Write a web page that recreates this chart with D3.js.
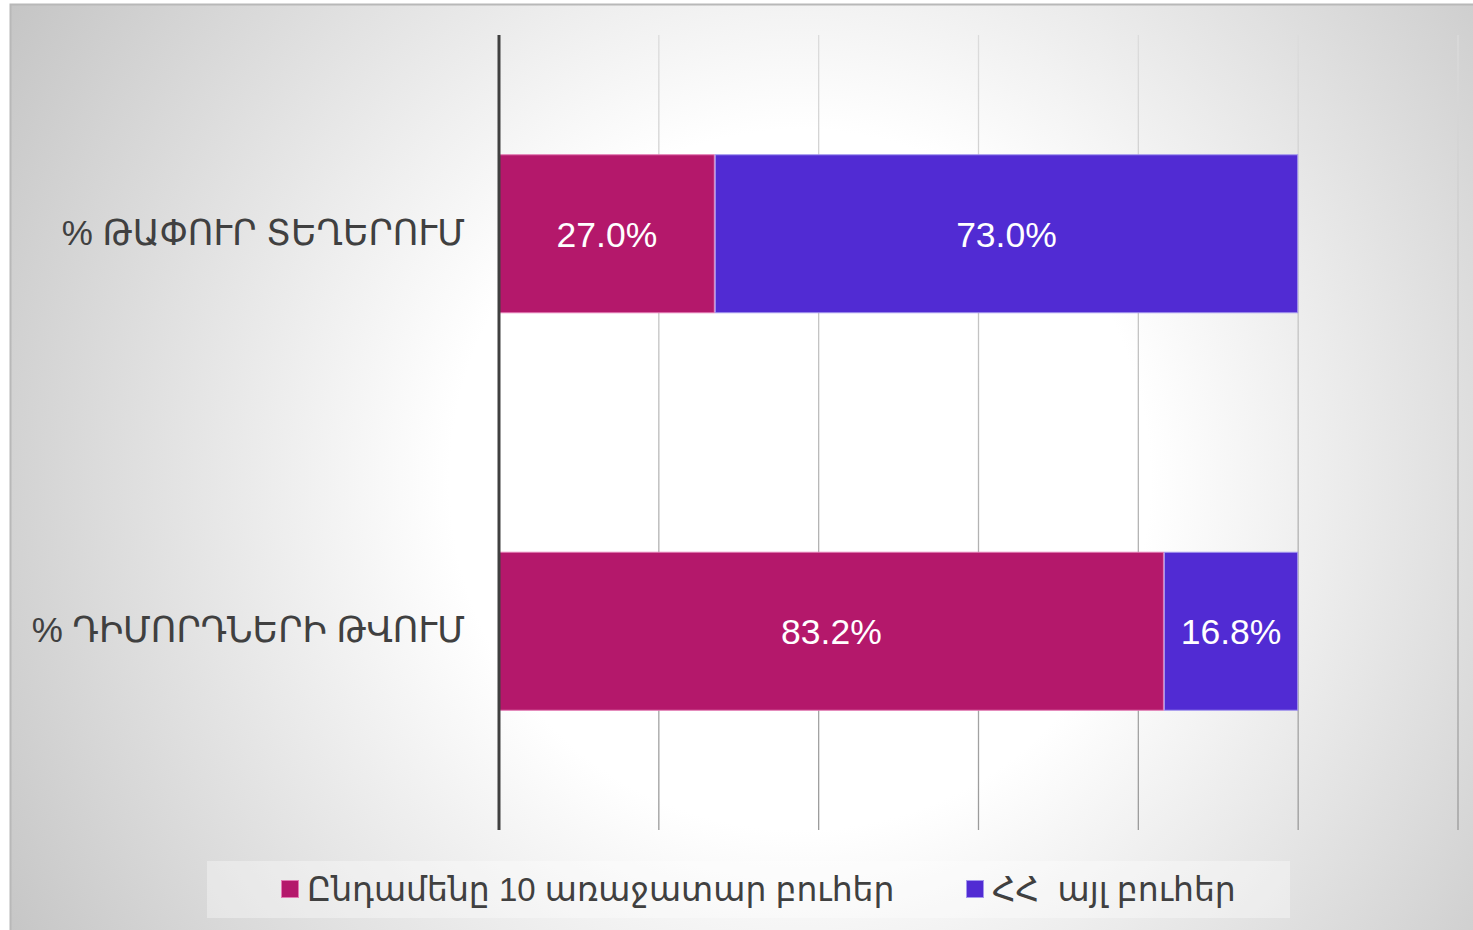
<!DOCTYPE html>
<html>
<head>
<meta charset="utf-8">
<script src="https://cdn.jsdelivr.net/npm/d3@7"></script>
<style>
  html, body { margin: 0; padding: 0; background: #fff; }
  svg { display: block; }
</style>
</head>
<body>
<script>
const width = 1473;
const height = 930;
const margin = { top: 35, right: 15, bottom: 100, left: 499 };
const plotRight = 1458;
const plotBottom = 830;

// data
const categories = ['% ԹԱՓՈՒՐ ՏԵՂԵՐՈՒՄ', '% ԴԻՄՈՐԴՆԵՐԻ ԹՎՈՒՄ'];
const seriesNames = ['Ընդամենը 10 առաջատար բուհեր', 'ՀՀ  այլ բուհեր'];
const top10 = [27.0, 83.2];
const others = [73.0, 16.8];
const xTicks = [0, 20, 40, 60, 80, 100, 120];

const color = ['#B4186B', '#512BD3'];
const border = ['#E27AB3', '#A396EE'];
const font = '"Liberation Sans", Arial, "DejaVu Sans", sans-serif';

const svg = d3.select('body')
    .append('svg')
    .attr('width', width)
    .attr('height', height);

const defs = svg.append('defs');
const bg = defs.append('radialGradient')
    .attr('id', 'bg')
    .attr('gradientUnits', 'userSpaceOnUse')
    .attr('cx', 800).attr('cy', 480).attr('r', 1000);
bg.append('stop').attr('offset', '0%').attr('stop-color', '#ffffff');
bg.append('stop').attr('offset', '35%').attr('stop-color', '#ffffff');
bg.append('stop').attr('offset', '95%').attr('stop-color', '#c2c2c2');

const gridGrad = defs.append('linearGradient')
    .attr('id', 'gridGrad')
    .attr('gradientUnits', 'userSpaceOnUse')
    .attr('x1', 0).attr('y1', margin.top).attr('x2', 0).attr('y2', plotBottom);
gridGrad.append('stop').attr('offset', '0%').attr('stop-color', '#dcdcdc');
gridGrad.append('stop').attr('offset', '100%').attr('stop-color', '#9a9a9a');

// chart area background
svg.append('rect')
    .attr('x', 10.5).attr('y', 4.5)
    .attr('width', width).attr('height', height)
    .attr('fill', 'url(#bg)')
    .attr('stroke', '#b8b8b8')
    .attr('stroke-width', 2);

// stack the two series
const table = categories.map((c, i) => ({ cat: c, a: top10[i], b: others[i] }));
const stacked = d3.stack().keys(['a', 'b'])(table);

const xScale = d3.scaleLinear()
    .domain([0, 120])
    .range([margin.left, plotRight]);

const yScale = d3.scaleBand()
    .domain(categories)
    .range([margin.top, plotBottom])
    .paddingInner(0.6)
    .paddingOuter(0.3);

// gridlines
svg.append('g')
    .selectAll('line')
    .data(xTicks.slice(1))
    .enter()
    .append('line')
    .attr('x1', d => xScale(d)).attr('x2', d => xScale(d))
    .attr('y1', margin.top).attr('y2', plotBottom)
    .attr('stroke', 'url(#gridGrad)')
    .attr('stroke-width', 1.3);

// bars
const layer = svg.selectAll('.layer')
    .data(stacked)
    .enter()
    .append('g')
    .attr('class', 'layer');

layer.selectAll('rect')
    .data((s, k) => s.map(d => ({ d: d, k: k })))
    .enter()
    .append('rect')
    .attr('x', o => xScale(o.d[0]) + 0.5)
    .attr('y', o => yScale(o.d.data.cat) + 0.5)
    .attr('width', o => xScale(o.d[1]) - xScale(o.d[0]) - 1)
    .attr('height', yScale.bandwidth() - 1)
    .attr('fill', o => color[o.k])
    .attr('stroke', o => border[o.k])
    .attr('stroke-width', 1);

layer.selectAll('text')
    .data((s, k) => s.map(d => ({ d: d, k: k })))
    .enter()
    .append('text')
    .attr('x', o => (xScale(o.d[0]) + xScale(o.d[1])) / 2)
    .attr('y', o => yScale(o.d.data.cat) + yScale.bandwidth() / 2)
    .attr('dy', '0.36em')
    .attr('text-anchor', 'middle')
    .attr('fill', '#fff')
    .style('font-family', font)
    .style('font-size', '35.5px')
    .text(o => (o.d[1] - o.d[0]).toFixed(1) + '%');

// category axis
const yAxis = d3.axisLeft(yScale).tickSize(0).tickPadding(34);
const yG = svg.append('g')
    .attr('transform', `translate(${margin.left}, 0)`)
    .call(yAxis);
yG.select('.domain')
    .attr('d', `M0,${margin.top}V${plotBottom}`)
    .attr('stroke', '#404040')
    .attr('stroke-width', 3);
yG.selectAll('text')
    .attr('fill', '#404040')
    .style('font-family', font)
    .style('font-size', '35px');

// legend
svg.append('rect')
    .attr('x', 207).attr('y', 861)
    .attr('width', 1083).attr('height', 57)
    .attr('fill', '#ffffff')
    .attr('fill-opacity', 0.35);

const legendX = [281, 966];
const legend = svg.selectAll('.legend')
    .data(seriesNames)
    .enter()
    .append('g')
    .attr('class', 'legend')
    .attr('transform', (d, i) => `translate(${legendX[i]}, 889)`);

legend.append('rect')
    .attr('x', 0.5).attr('y', -8.5)
    .attr('width', 17).attr('height', 17)
    .attr('fill', (d, i) => color[i])
    .attr('stroke', (d, i) => border[i]);

legend.append('text')
    .attr('x', 26)
    .attr('dy', '0.36em')
    .attr('fill', '#404040')
    .style('font-family', font)
    .style('font-size', '33px')
    .style('white-space', 'pre')
    .text(d => d);
</script>
</body>
</html>
